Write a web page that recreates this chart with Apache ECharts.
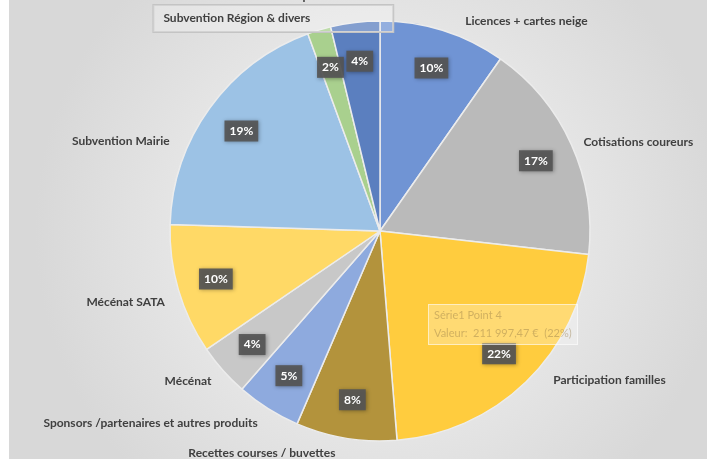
<!DOCTYPE html>
<html>
<head>
<meta charset="utf-8">
<script src="https://cdn.jsdelivr.net/npm/echarts@6/dist/echarts.min.js"></script>
<style>
  html, body { margin: 0; padding: 0; background: #fff; }
  #chart { position: absolute; left: 9px; top: 0; width: 698px; height: 459px; }
</style>
</head>
<body>
<div id="chart"></div>
<script>
// données du graphique (Série1)
const categories = [
	'Licences + cartes neige',
	'Cotisations coureurs',
	'Participation familles',
	'Recettes courses / buvettes',
	'Sponsors /partenaires et autres produits',
	'Mécénat',
	'Mécénat SATA',
	'Subvention Mairie',
	'Subvention Région & divers',
	'Subvention Département'
];
const values = [94000, 165000, 211997.47, 75000, 48000, 39000, 97000, 183000, 17500, 36500];
const colors = ['#7094d4', '#bababa', '#ffcc3e', '#b3933c', '#8eaade', '#c8c8c8', '#ffd966', '#9cc2e5', '#a9d08e', '#5b7fbf'];

// décalages des étiquettes (dx, dy) pour coller au placement Excel
const labelShift = [[10, 0], [-6, 2], [11, -9], [0, 5], [4, 6], [5, 4], [5, 9], [-23, 39], [86, -2], [0, 0]];

function euro(v) {
	let parts = v.toFixed(2).split('.');
	let ent = parts[0].replace(/\B(?=(\d{3})+(?!\d))/g, ' ');
	return ent + ',' + parts[1] + ' €';
}

const dom = document.getElementById('chart');
const myChart = echarts.init(dom);

const data = categories.map(function(name, i) {
	let item = {
		name: name,
		value: values[i],
		itemStyle: { color: colors[i] }
	};
	// étiquette encadrée (sélectionnée)
	if (i === 8) {
		item.label = {
			borderColor: '#c4c4c4',
			borderWidth: 1,
			backgroundColor: 'rgba(255,255,255,0.25)',
			padding: [8, 83, 7, 10]
		};
	}
	return item;
});

const center = [371, 231];
const R = 210;

var option = {
	backgroundColor: {
		type: 'radial',
		x: 0.53, y: 0.5, r: 0.75,
		colorStops: [
			{ offset: 0, color: '#f8f8f8' },
			{ offset: 1, color: '#d8d8d8' }
		]
	},
	tooltip: {
		trigger: 'item',
		triggerOn: 'none',
		alwaysShowContent: true,
		position: [419, 304],
		backgroundColor: 'rgba(255,255,255,0.28)',
		borderColor: 'rgba(255,255,255,0.55)',
		borderWidth: 1,
		borderRadius: 0,
		padding: [1, 5, 2, 5],
		extraCssText: 'box-shadow:none;',
		textStyle: {
			color: 'rgba(150,125,70,0.45)',
			fontFamily: 'Lato',
			fontSize: 11,
			lineHeight: 18
		},
		formatter: function(p) {
			return 'Série1 Point 4<br/>Valeur:&nbsp; ' + euro(p.value) + '&nbsp; (' + Math.round(p.percent) + '%)';
		}
	},
	series: [{
		name: 'Série1',
		type: 'pie',
		center: center,
		radius: R,
		startAngle: 90,
		clockwise: true,
		avoidLabelOverlap: false,
		data: data,
		itemStyle: {
			borderColor: '#ececec',
			borderWidth: 1.5
		},
		label: {
			show: true,
			position: 'outside',
			formatter: '{b}',
			color: '#404040',
			fontFamily: 'Lato',
			fontWeight: 'bold',
			fontSize: 12
		},
		labelLine: { show: false, length: 10, length2: 4 },
		labelLayout: function(p) {
			if (p.dataIndex === 9) {
				// étiquette coupée en haut du cadre
				return { x: 282, y: -4, align: 'center', verticalAlign: 'middle' };
			}
			let s = labelShift[p.dataIndex];
			return { dx: s[0], dy: s[1], hideOverlap: false };
		},
		emphasis: { disabled: true }
	}, {
		name: 'pct',
		type: 'pie',
		center: center,
		radius: [R * 0.6, R],
		startAngle: 90,
		clockwise: true,
		silent: true,
		tooltip: { show: false },
		data: categories.map(function(name, i) {
			return { name: name, value: values[i] };
		}),
		itemStyle: { color: 'rgba(0,0,0,0)' },
		label: {
			show: true,
			position: 'inside',
			// arrondi individuel comme Excel
			formatter: function(p) { return Math.round(p.percent) + '%'; },
			color: '#fff',
			fontFamily: 'Lato',
			fontWeight: 'bold',
			fontSize: 12,
			backgroundColor: 'rgba(85,85,85,0.92)',
			padding: [5, 5, 4, 5],
			shadowColor: 'rgba(0,0,0,0.35)',
			shadowBlur: 4,
			shadowOffsetX: 1,
			shadowOffsetY: 1
		},
		labelLine: { show: false },
		emphasis: { disabled: true }
	}]
};

myChart.setOption(option);
myChart.dispatchAction({ type: 'showTip', seriesIndex: 0, dataIndex: 2 });
</script>
</body>
</html>
